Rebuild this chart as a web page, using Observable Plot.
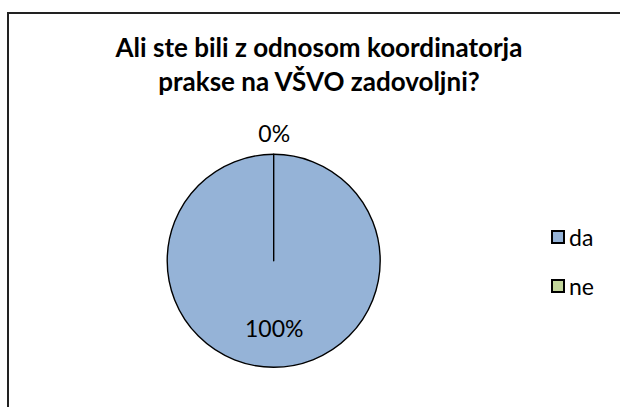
<!DOCTYPE html>
<html>
<head>
<meta charset="utf-8">
<script src="https://cdn.jsdelivr.net/npm/d3@7"></script>
<script src="https://cdn.jsdelivr.net/npm/@observablehq/plot@0.6"></script>
<style>
  html, body { margin: 0; padding: 0; background: #fff; width: 620px; height: 407px; overflow: hidden; }
  #frame { position: absolute; left: 7px; top: 12px; width: 700px; height: 500px;
           border-left: 2px solid #222; border-top: 2px solid #222; box-sizing: border-box; }
  #title { position: absolute; left: 0; top: 30px; width: 638px; text-align: center;
           font-family: Lato, "Open Sans", sans-serif; font-weight: bold; font-size: 26px;
           line-height: 34px; color: #000; }
  #chart { position: absolute; left: 0; top: 0; }
  #legend { position: absolute; left: 551px; top: 0; font-family: Lato, "Open Sans", sans-serif;
            font-size: 23px; color: #000; }
  .item { position: absolute; left: 0; display: flex; align-items: center; white-space: nowrap; }
  .sw { width: 10px; height: 10px; border: 2px solid #000; margin-right: 4px; }
</style>
</head>
<body>
<div id="frame"></div>
<div id="chart"></div>
<div id="title">Ali ste bili z odnosom koordinatorja<br>prakse na VŠVO zadovoljni?</div>
<div id="legend"></div>
<script>
// ---- data ----
const answers = ["da", "ne"];
const percents = [100, 0];
const colors = ["#95B3D7", "#C3D69B"];

const rows = answers.map((a, i) => ({answer: a, value: percents[i], label: `${percents[i]}%`}));

// pie geometry (Excel: starts at 12 o'clock, clockwise)
const arcs = d3.pie().sort(null).value(d => d.value)(rows);

// label positions in radius units (y up): big slice inside, empty slice outside
const labelRows = arcs.map(a => {
  const mid = (a.startAngle + a.endAngle) / 2;
  const k = a.data.value === 0 ? 1.19 : 0.644;
  return {label: a.data.label, x: Math.sin(mid) * k, y: Math.cos(mid) * k};
});

// layout: pie centre and radius in pixels
const W = 620, H = 407, cx = 273.7, cy = 260.8, R = 106.5;

const plot = Plot.plot({
  width: W,
  height: H,
  margin: 0,
  x: {domain: [-cx / R, (W - cx) / R], range: [0, W], axis: null},
  y: {domain: [-(H - cy) / R, cy / R], range: [H, 0], axis: null},
  color: {type: "ordinal", domain: answers, range: colors},
  style: {background: "transparent", overflow: "visible"},
  marks: [
    Plot.dot(rows, {x: 0, y: 0, fill: "answer", r: 0}),
    (index, scales) => {
      const x0 = scales.x(0), y0 = scales.y(0), rad = scales.x(1) - scales.x(0);
      const arc = d3.arc().innerRadius(0).outerRadius(rad);
      const g = d3.create("svg:g").attr("transform", `translate(${x0},${y0})`);
      g.selectAll("path")
        .data(arcs)
        .join("path")
        .attr("d", arc)
        .attr("fill", d => scales.color(d.data.answer))
        .attr("stroke", "#000")
        .attr("stroke-width", 1.4)
        .attr("stroke-linejoin", "round");
      return g.node();
    },
    Plot.text(labelRows, {
      x: "x", y: "y", text: "label",
      fontSize: 23, fontFamily: "Lato, 'Open Sans', sans-serif", fill: "#000"
    })
  ]
});
document.getElementById("chart").appendChild(plot);

// legend
const color = plot.scale("color");
const legend = document.getElementById("legend");
const legendY = [237, 286];
answers.forEach((a, i) => {
  const item = document.createElement("div");
  item.className = "item";
  item.style.top = (legendY[i] - 15) + "px";
  item.style.height = "30px";
  const sw = document.createElement("div");
  sw.className = "sw";
  sw.style.background = color.apply(a);
  const t = document.createElement("span");
  t.textContent = a;
  item.appendChild(sw);
  item.appendChild(t);
  legend.appendChild(item);
});
</script>
</body>
</html>
